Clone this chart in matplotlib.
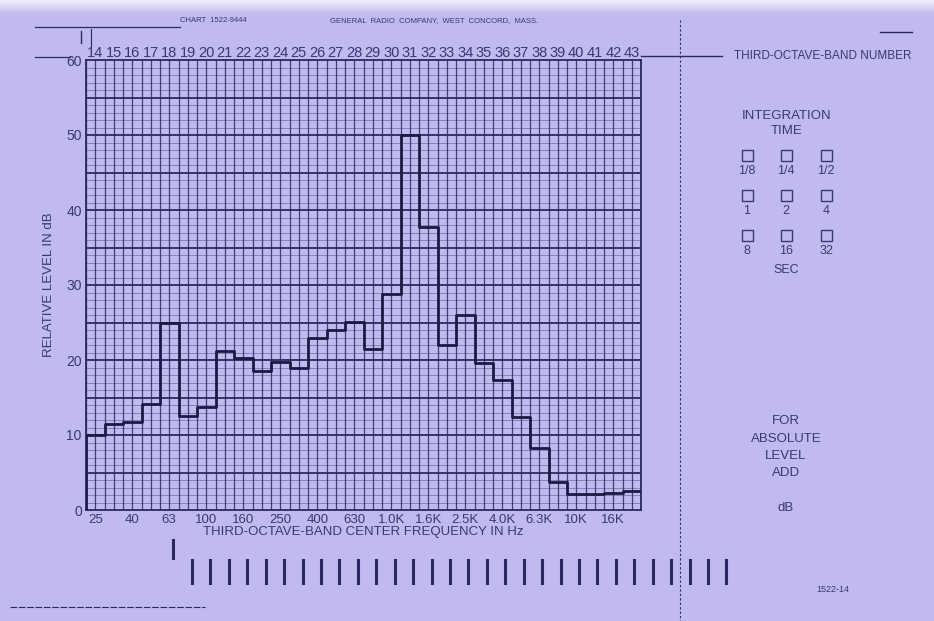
#Third-octave band analysis chart (General Radio 1522 chart paper).

import numpy as np
import matplotlib
import matplotlib.pyplot as plt

#Font settings.
matplotlib.rc('font', family=['Liberation Sans', 'DejaVu Sans'], size=9)

#Colours of the paper and of the ink.
paper = '#c1baef'
ink = '#2c2862'
text_ink = '#3b3773'

#Data.
band_numbers = list(range(14, 44))
levels_db = [10.0, 11.5, 11.8, 14.1, 25.0, 12.6, 13.7, 21.2, 20.3, 18.5,
             19.8, 18.9, 22.9, 24.0, 25.1, 21.5, 28.8, 50.0, 37.7, 22.0,
             26.0, 19.6, 17.4, 12.4, 8.3, 3.8, 2.1, 2.1, 2.3, 2.5]
freq_bands = [14, 16, 18, 20, 22, 24, 26, 28, 30, 32, 34, 36, 38, 40, 42]
freq_labels = ['25', '40', '63', '100', '160', '250', '400', '630', '1.0K',
               '1.6K', '2.5K', '4.0K', '6.3K', '10K', '16K']
y_ticks = [0, 10, 20, 30, 40, 50, 60]
time_labels = [['1/8', '1/4', '1/2'], ['1', '2', '4'], ['8', '16', '32']]

W, H = 934, 621
fig = plt.figure(figsize=(W / 100, H / 100), dpi=100, facecolor=paper)

#Background axes in pixel coordinates for the printed decorations.
bg = fig.add_axes([0, 0, 1, 1], zorder=0)
bg.set_xlim(0, W)
bg.set_ylim(H, 0)
bg.axis('off')

#Faded white strip along the top edge of the photo.
fade = np.zeros((20, 2, 4))
fade[..., :3] = 1.0
fade[..., 3] = np.linspace(0.8, 0.0, 20)[:, None]
bg.imshow(fade, extent=(0, W, 14, 0), aspect='auto', zorder=0)

#Main chart axes.
left, right, top, bottom = 86, 641, 60, 510
ax = fig.add_axes([left / W, (H - bottom) / H, (right - left) / W, (bottom - top) / H], zorder=2)
ax.set_facecolor('none')
ax.set_xlim(13.5, 43.5)
ax.set_ylim(0, 60)

#Grid: half-band verticals, 1 dB minor and 5 dB major horizontals.
for xv in np.arange(13.5, 43.6, 0.5):
    ax.axvline(xv, color=ink, lw=0.9, alpha=0.85, zorder=1)
for yv in range(1, 60):
    if yv % 5 == 0:
        ax.axhline(yv, color=ink, lw=1.3, zorder=1)
    else:
        ax.axhline(yv, color=ink, lw=0.45, alpha=0.6, zorder=1)

for s in ax.spines.values():
    s.set_color(ink)
    s.set_linewidth(1.3)

#Band level trace.
edges = np.arange(13.5, 44.5, 1.0)
xs = np.concatenate([[edges[0]], edges])
ys = np.concatenate([[0], levels_db, [levels_db[-1]]])
ax.step(xs, ys, where='post', color='#1d1946', lw=2.0, zorder=3)

#Axis ticks and labels.
ax.set_yticks(y_ticks)
ax.set_yticklabels([str(v) for v in y_ticks], color=text_ink, fontsize=10)
ax.set_xticks(freq_bands)
ax.set_xticklabels(freq_labels, color=text_ink, fontsize=9.5)
ax.tick_params(length=0, pad=3)
ax.tick_params(axis='y', pad=3)
ax.set_xlabel('THIRD-OCTAVE-BAND CENTER FREQUENCY IN Hz', color=text_ink,
              fontsize=9.5, labelpad=0)
ax.set_ylabel('RELATIVE LEVEL IN dB', color=text_ink, fontsize=9.5, labelpad=8)

top_ax = ax.secondary_xaxis('top')
top_ax.set_xticks(band_numbers)
top_ax.set_xticklabels([str(b) for b in band_numbers], color=text_ink, fontsize=10.5)
top_ax.tick_params(length=0, pad=0)
top_ax.spines['top'].set_visible(False)

#Header printing.
bg.text(180, 21, 'CHART  1522-9444', fontsize=5.5, color=text_ink, va='center')
bg.text(330, 21, 'GENERAL  RADIO  COMPANY,  WEST  CONCORD,  MASS.', fontsize=5.5,
        color=text_ink, va='center')
bg.plot([35, 180], [27, 27], color=ink, lw=0.9)
bg.plot([81, 81], [31, 43], color=ink, lw=1.0)
bg.plot([91, 91], [29, 52], color=ink, lw=0.8)
bg.plot([35, 70], [57, 57], color=ink, lw=0.9)
bg.plot([880, 912], [32, 32], color=ink, lw=1.0)
bg.plot([641, 722], [56, 56], color=ink, lw=1.0)
bg.text(734, 56, 'THIRD-OCTAVE-BAND NUMBER', fontsize=8.5, color=text_ink, va='center')

#Dashed vertical fold line.
bg.plot([680, 680], [20, 621], color=ink, lw=0.8, ls=(0, (2, 2)))

#Integration time panel.
bg.text(787, 116, 'INTEGRATION', fontsize=9.5, color=text_ink, ha='center', va='center')
bg.text(787, 131, 'TIME', fontsize=9.5, color=text_ink, ha='center', va='center')
col_x = [747, 786, 826]
row_y = [155, 195, 235]
for r, yy in enumerate(row_y):
    for c, xx in enumerate(col_x):
        bg.add_patch(plt.Rectangle((xx - 5.5, yy - 5.5), 11, 11, fill=False,
                                   edgecolor=text_ink, lw=1.0))
        bg.text(xx, yy + 16, time_labels[r][c], fontsize=9, color=text_ink,
                ha='center', va='center')
bg.text(786, 270, 'SEC', fontsize=9, color=text_ink, ha='center', va='center')

#Absolute level panel.
for i, line in enumerate(['FOR', 'ABSOLUTE', 'LEVEL', 'ADD']):
    bg.text(786, 421 + 17.5 * i, line, fontsize=9.5, color=text_ink,
            ha='center', va='center')
bg.text(786, 508, 'dB', fontsize=9.5, color=text_ink, ha='center', va='center')
bg.text(833, 590, '1522-14', fontsize=6.5, color=text_ink, ha='center', va='center')

#Marker ticks below the chart.
bg.plot([173, 173], [540, 558], color=ink, lw=2.2)
for k in range(30):
    xx = 192 + k * 18.43
    bg.plot([xx, xx], [560, 583], color=ink, lw=2.2)
bg.plot([10, 205], [607, 607], color=ink, lw=0.8, ls=(0, (6, 1.5)))

fig.savefig('out.png', dpi=100, facecolor=paper)
